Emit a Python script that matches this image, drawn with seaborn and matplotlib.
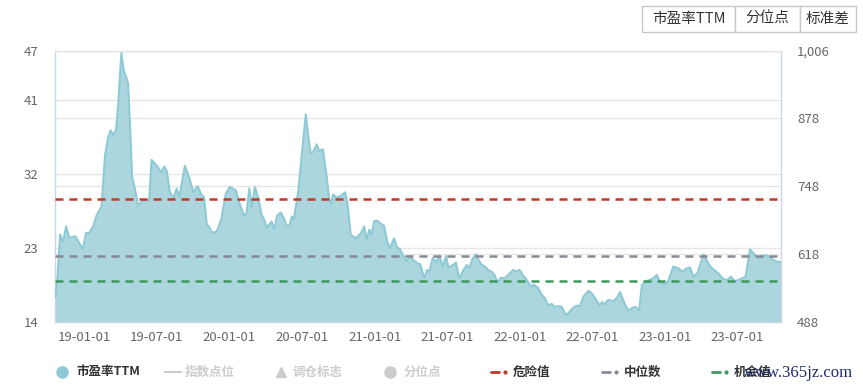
import matplotlib
matplotlib.use("Agg")
import matplotlib.pyplot as plt
import matplotlib.dates as mdates
from matplotlib.lines import Line2D
from matplotlib.patches import Rectangle
from matplotlib.ticker import FuncFormatter
import pandas as pd
import seaborn as sns

# ---------------- data ----------------
dates = [
    "2018-10-20", "2018-10-25", "2018-11-01", "2018-11-08", "2018-11-16", "2018-11-24",
    "2018-12-09", "2018-12-28", "2019-01-05", "2019-01-13", "2019-01-23", "2019-02-01",
    "2019-02-13", "2019-02-22", "2019-03-02", "2019-03-08", "2019-03-15", "2019-03-22",
    "2019-03-27", "2019-04-04", "2019-04-10", "2019-04-16", "2019-04-21", "2019-04-26",
    "2019-05-01", "2019-05-08", "2019-05-16", "2019-05-25", "2019-06-02", "2019-06-13",
    "2019-06-19", "2019-06-28", "2019-07-04", "2019-07-13", "2019-07-21", "2019-07-27",
    "2019-08-04", "2019-08-13", "2019-08-21", "2019-08-28", "2019-09-11", "2019-09-22",
    "2019-10-02", "2019-10-13", "2019-10-23", "2019-10-29", "2019-11-05", "2019-11-11",
    "2019-11-17", "2019-11-28", "2019-12-04", "2019-12-12", "2019-12-23", "2020-01-02",
    "2020-01-17", "2020-01-26", "2020-02-07", "2020-02-13", "2020-02-20", "2020-02-26",
    "2020-03-05", "2020-03-14", "2020-03-22", "2020-03-26", "2020-04-04", "2020-04-16",
    "2020-04-23", "2020-04-30", "2020-05-09", "2020-05-17", "2020-05-24", "2020-05-31",
    "2020-06-06", "2020-06-11", "2020-06-22", "2020-07-01", "2020-07-11", "2020-07-15",
    "2020-07-23", "2020-07-30", "2020-08-08", "2020-08-14", "2020-08-23", "2020-09-02",
    "2020-09-08", "2020-09-13", "2020-09-18", "2020-09-28", "2020-10-10", "2020-10-18",
    "2020-10-24", "2020-11-01", "2020-11-14", "2020-11-27", "2020-12-05", "2020-12-11",
    "2020-12-18", "2020-12-24", "2020-12-30", "2021-01-07", "2021-01-16", "2021-01-24",
    "2021-02-01", "2021-02-08", "2021-02-18", "2021-02-26", "2021-03-05", "2021-03-13",
    "2021-03-22", "2021-03-30", "2021-04-08", "2021-04-18", "2021-04-25", "2021-05-05",
    "2021-05-12", "2021-05-18", "2021-05-27", "2021-06-04", "2021-06-12", "2021-06-21",
    "2021-06-29", "2021-07-05", "2021-07-17", "2021-07-24", "2021-08-01", "2021-08-11",
    "2021-08-20", "2021-08-27", "2021-09-04", "2021-09-12", "2021-09-18", "2021-09-27",
    "2021-10-05", "2021-10-13", "2021-10-22", "2021-10-30", "2021-11-06", "2021-11-14",
    "2021-11-24", "2021-12-05", "2021-12-15", "2021-12-24", "2021-12-31", "2022-01-08",
    "2022-01-18", "2022-01-28", "2022-02-05", "2022-02-16", "2022-02-25", "2022-03-05",
    "2022-03-13", "2022-03-22", "2022-03-30", "2022-04-08", "2022-04-16", "2022-04-27",
    "2022-05-05", "2022-05-15", "2022-05-24", "2022-06-01", "2022-06-10", "2022-06-22",
    "2022-07-01", "2022-07-12", "2022-07-20", "2022-07-27", "2022-08-01", "2022-08-11",
    "2022-08-24", "2022-09-02", "2022-09-10", "2022-09-21", "2022-10-01", "2022-10-11",
    "2022-10-19", "2022-10-28", "2022-11-04", "2022-11-12", "2022-11-24", "2022-12-03",
    "2022-12-11", "2022-12-20", "2023-01-01", "2023-01-09", "2023-01-22", "2023-02-04",
    "2023-02-14", "2023-02-25", "2023-03-05", "2023-03-13", "2023-03-24", "2023-04-08",
    "2023-04-16", "2023-04-25", "2023-05-05", "2023-05-17", "2023-05-28", "2023-06-08",
    "2023-06-16", "2023-06-25", "2023-07-07", "2023-07-17", "2023-07-23", "2023-08-03",
    "2023-08-14", "2023-08-26", "2023-09-03", "2023-09-14", "2023-09-22", "2023-10-01",
    "2023-10-12", "2023-10-20",
]
pe_ttm = [
    17.0, 19.3, 24.6, 23.7, 25.6, 24.2,
    24.4, 22.85, 24.8, 24.8, 25.6, 27.0,
    28.0, 34.3, 36.5, 37.3, 36.7, 37.5,
    40.4, 46.7, 44.6, 43.8, 43.0, 37.5,
    31.65, 30.2, 28.2, 28.6, 28.8, 28.8,
    33.7, 33.2, 32.9, 32.2, 32.9, 32.35,
    29.8, 29.0, 30.2, 29.2, 33.0, 31.5,
    29.8, 30.5, 29.4, 29.2, 25.8, 25.6,
    24.9, 24.9, 25.45, 26.6, 29.6, 30.4,
    30.0, 28.4, 26.9, 27.2, 30.2, 28.0,
    30.4, 29.0, 27.0, 26.7, 25.45, 26.2,
    25.25, 26.9, 27.3, 26.6, 25.7, 25.7,
    26.8, 26.5, 29.8, 34.3, 39.25, 37.55,
    34.5, 34.7, 35.6, 34.8, 35.0, 31.5,
    28.9, 28.4, 29.5, 29.1, 29.4, 29.75,
    28.4, 24.6, 24.15, 24.8, 25.6, 23.95,
    25.2, 24.6, 26.25, 26.3, 25.9, 25.7,
    23.75, 22.95, 24.15, 23.05, 22.85, 22.05,
    21.4, 21.95, 21.5, 21.1, 21.0, 19.3,
    20.3, 20.1, 21.8, 21.2, 22.0, 20.7,
    22.0, 20.6, 20.9, 21.2, 19.3, 20.2,
    20.9, 20.5, 21.7, 22.2, 21.6, 20.9,
    20.7, 20.3, 20.1, 19.6, 18.8, 19.35,
    19.3, 19.8, 20.3, 20.1, 20.3, 19.7,
    19.1, 18.3, 18.5, 18.1, 17.25, 16.85,
    16.0, 16.15, 15.8, 15.9, 15.8, 14.8,
    15.15, 15.7, 15.95, 15.9, 17.05, 17.75,
    17.45, 16.65, 16.0, 16.4, 16.1, 16.65,
    16.5, 16.9, 17.6, 16.25, 15.3, 15.7,
    15.8, 15.4, 18.45, 18.9, 19.1, 19.3,
    19.7, 18.8, 18.55, 18.95, 20.7, 20.5,
    20.1, 20.5, 20.6, 19.5, 19.9, 22.2,
    21.5, 20.7, 20.3, 19.8, 19.2, 19.1,
    19.5, 18.95, 19.1, 19.35, 19.5, 22.8,
    22.2, 21.7, 22.05, 22.05, 21.9, 21.5,
    21.3, 21.25,
]
danger_value = 29.0
median_value = 22.0
chance_value = 19.0

left_ticks = [14, 23, 32, 41, 47]
right_ticks = [488, 618, 748, 878, 1006]
x_tick_dates = ["2019-01-01", "2019-07-01", "2020-01-01", "2020-07-01", "2021-01-01",
                "2021-07-01", "2022-01-01", "2022-07-01", "2023-01-01", "2023-07-01"]
x_range = ["2018-10-19", "2023-10-20"]

legend_labels = ["市盈率TTM", "指数点位", "调仓标志", "分位点", "危险值", "中位数", "机会值"]
button_labels = ["市盈率TTM", "分位点", "标准差"]
watermark = "www.365jz.com"

# ---------------- style ----------------
sns.set_theme(style="white")
plt.rcParams["font.family"] = ["Noto Sans CJK SC", "DejaVu Sans"]

FILL = "#abd6de"
LINE = "#8dcad6"
RED = "#c0392b"
GRAY = "#858a93"
GREEN = "#3e9a5c"
GRID = "#e6e6e6"
AXIS = "#ccd6eb"
TXT = "#666666"

df = pd.DataFrame({"date": pd.to_datetime(dates), "pe": pe_ttm})

W, H = 863, 389
fig = plt.figure(figsize=(W / 100, H / 100), dpi=100)
fig.patch.set_facecolor("white")
ax = fig.add_axes([55 / W, 67.3 / H, 726 / W, 271 / H])
ax2 = ax.twinx()

# right (index) axis: only grid + labels
ax2.set_ylim(right_ticks[0], right_ticks[-1])
ax2.set_yticks(right_ticks)
ax2.yaxis.set_major_formatter(FuncFormatter(lambda v, p: f"{int(v):,}"))
ax2.yaxis.grid(True, color=GRID, lw=1)
ax2.tick_params(axis="y", length=0, pad=11.5, labelsize=9.5, labelcolor=TXT)
for s in ax2.spines.values():
    s.set_visible(False)

ax.set_zorder(ax2.get_zorder() + 1)
ax.patch.set_visible(False)

# main series
ax.fill_between(df["date"], df["pe"], left_ticks[0], color=FILL, lw=0, zorder=2)
sns.lineplot(data=df, x="date", y="pe", ax=ax, color=LINE, linewidth=1.5, zorder=3)

ax.axhline(danger_value, color=RED, lw=1.8, ls=(0, (3.2, 2.4)), zorder=4)
ax.axhline(median_value, color=GRAY, lw=1.8, ls=(0, (3.2, 2.4)), zorder=4)
ax.axhline(chance_value, color=GREEN, lw=1.8, ls=(0, (3.2, 2.4)), zorder=4)

ax.set_ylim(left_ticks[0], left_ticks[-1])
ax.set_yticks(left_ticks)
ax.set_xlim(pd.to_datetime(x_range[0]), pd.to_datetime(x_range[1]))
ax.set_xticks(pd.to_datetime(x_tick_dates))
ax.xaxis.set_major_formatter(mdates.DateFormatter("%y-%m-%d"))
ax.set_xlabel("")
ax.set_ylabel("")
ax.yaxis.grid(True, color=GRID, lw=1)
ax.set_axisbelow(True)
ax.tick_params(axis="y", length=0, pad=12, labelsize=9.5, labelcolor=TXT)
ax.tick_params(axis="x", length=6, width=1, color=AXIS, pad=0.5, labelsize=9.5, labelcolor=TXT)
for name, s in ax.spines.items():
    s.set_visible(True)
    s.set_linewidth(1)
    s.set_color(GRID if name == "top" else AXIS)

# ---------------- legend ----------------
def fx(px):
    return px / W

def fy(py):
    return (H - py) / H

ly = fy(372)
active = "#333333"
inactive = "#cccccc"
fig.add_artist(Line2D([fx(62)], [ly], marker="o", ms=8, color=LINE, ls="none",
                      transform=fig.transFigure))
fig.text(fx(76), ly, legend_labels[0], color=active, fontsize=9, fontweight="bold", va="center")
fig.add_artist(Line2D([fx(165), fx(181)], [ly, ly], color=inactive, lw=1.5, transform=fig.transFigure))
fig.text(fx(185), ly, legend_labels[1], color=inactive, fontsize=9, fontweight="bold", va="center")
fig.add_artist(Line2D([fx(281)], [ly], marker="^", ms=7, color=inactive, ls="none",
                      transform=fig.transFigure))
fig.text(fx(293), ly, legend_labels[2], color=inactive, fontsize=9, fontweight="bold", va="center")
fig.add_artist(Line2D([fx(390)], [ly], marker="o", ms=8, color=inactive, ls="none",
                      transform=fig.transFigure))
fig.text(fx(404), ly, legend_labels[3], color=inactive, fontsize=9, fontweight="bold", va="center")
for x0, col, lab in [(491, RED, legend_labels[4]), (602, GRAY, legend_labels[5]),
                     (712, GREEN, legend_labels[6])]:
    fig.add_artist(Line2D([fx(x0), fx(x0 + 8)], [ly, ly], color=col, lw=2, transform=fig.transFigure))
    fig.add_artist(Line2D([fx(x0 + 14)], [ly], marker="o", ms=2, color=col, ls="none",
                          transform=fig.transFigure))
    fig.text(fx(x0 + 22), ly, lab, color=active, fontsize=9, fontweight="bold", va="center")

fig.text(fx(744), fy(373), watermark, color="#1c2c6e", fontsize=12,
         family=["Liberation Serif", "DejaVu Serif"], va="center", zorder=10)

# ---------------- top-right buttons ----------------
edges = [642, 735, 800, 856]
for i, lab in enumerate(button_labels):
    x0, x1 = edges[i], edges[i + 1]
    fig.add_artist(Rectangle((fx(x0), fy(32)), fx(x1 - x0), (32 - 6) / H,
                             transform=fig.transFigure, facecolor="white",
                             edgecolor="#c8c8c8", lw=1))
    fig.text(fx((x0 + x1) / 2), fy(19), lab, color="#333333", fontsize=10.5,
             ha="center", va="center")

fig.savefig("out.png", dpi=100, facecolor="white")
